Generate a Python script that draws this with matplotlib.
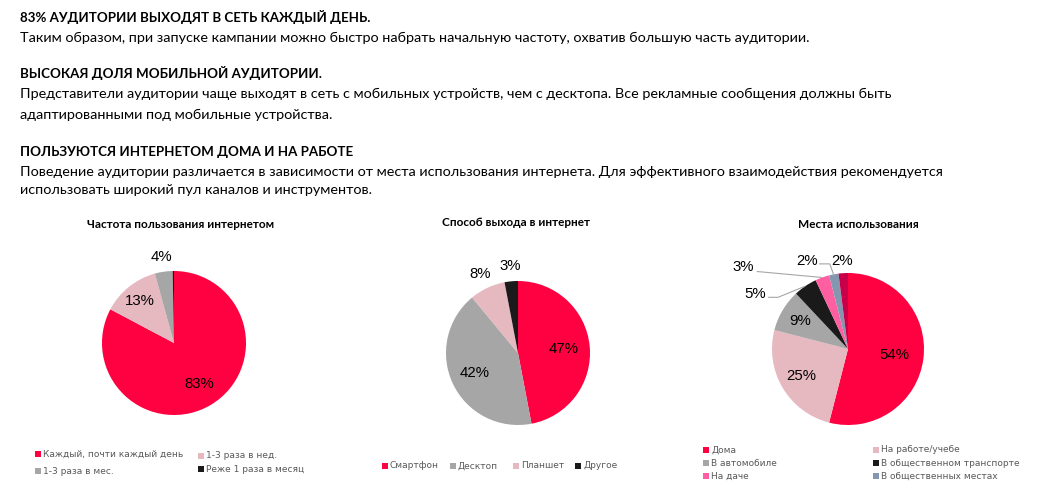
import matplotlib
matplotlib.use("Agg")
import matplotlib.pyplot as plt
from matplotlib.patches import Rectangle
import numpy as np

# ---------------- data ----------------
freq_labels = ["Каждый, почти каждый день", "1-3 раза в нед.", "1-3 раза в мес.", "Реже 1 раза в месяц"]
freq_values = [83, 13, 4, 0.3]
freq_text = ["83%", "13%", "4%", ""]

dev_labels = ["Смартфон", "Десктоп", "Планшет", "Другое"]
dev_values = [47, 42, 8, 3]
dev_text = ["47%", "42%", "8%", "3%"]

place_labels = ["Дома", "На работе/учебе", "В автомобиле", "В общественном транспорте",
                "На даче", "В общественных местах", "Другое"]
place_values = [54, 25, 9, 5, 3, 2, 2]
place_text = ["54%", "25%", "9%", "5%", "3%", "2%", "2%"]

titles = ["Частота пользования интернетом", "Способ выхода в интернет", "Места использования"]

headers = [
    ("83% АУДИТОРИИ ВЫХОДЯТ В СЕТЬ КАЖДЫЙ ДЕНЬ.", True),
    ("Таким образом, при запуске кампании можно быстро набрать начальную частоту, охватив большую часть аудитории.", False),
    ("ВЫСОКАЯ ДОЛЯ МОБИЛЬНОЙ АУДИТОРИИ.", True),
    ("Представители аудитории чаще выходят в сеть с мобильных устройств, чем с десктопа. Все рекламные сообщения должны быть", False),
    ("адаптированными под мобильные устройства.", False),
    ("ПОЛЬЗУЮТСЯ ИНТЕРНЕТОМ ДОМА И НА РАБОТЕ", True),
    ("Поведение аудитории различается в зависимости от места использования интернета. Для эффективного взаимодействия рекомендуется", False),
    ("использовать широкий пул каналов и инструментов.", False),
]

# ---------------- style ----------------
RED = "#FF0040"
PINK = "#E6B8C0"
GRAY = "#A6A6A6"
BLACK = "#1A1A1A"
HOT = "#FF5FA0"
SLATE = "#8497B0"
CRIMSON = "#C8004A"

W, H = 1050, 500
fig = plt.figure(figsize=(W / 100, H / 100), dpi=100)
fig.patch.set_facecolor("white")

HFONT = "Lato"
header_y = [17, 38, 73, 94, 115, 152, 172, 190]
for (txt, bold), y in zip(headers, header_y):
    fig.text(20 / W, 1 - y / H, txt, fontsize=9.6 if bold else 10.38, family=HFONT,
             fontweight="bold" if bold else "normal", va="center", ha="left", color="#000000")


def make_ax(cx, cy, r):
    s = 3 * r
    ax = fig.add_axes([(cx - s / 2) / W, 1 - (cy + s / 2) / H, s / W, s / H])
    return ax


def finish_ax(ax):
    ax.set_xlim(-1.5, 1.5)
    ax.set_ylim(-1.5, 1.5)
    ax.set_aspect("equal")
    ax.axis("off")


def draw_pie(ax, values, colors, texts, inner, outer_r):
    wedges, _ = ax.pie(values, colors=colors, startangle=90, counterclock=False, radius=1.0,
                       wedgeprops=dict(linewidth=0))
    total = sum(values)
    cum = 0
    mids = []
    for v in values:
        mid = 90 - 360 * (cum + v / 2) / total
        mids.append(mid)
        cum += v
    for i, (t, m) in enumerate(zip(texts, mids)):
        if not t:
            continue
        rr = inner[i] if i < len(inner) and inner[i] else outer_r
        x, y = rr * np.cos(np.radians(m)), rr * np.sin(np.radians(m))
        ax.text(x, y, t, ha="center", va="center", fontsize=10.8, family="Liberation Sans", color="#000000")
    return mids


# pie 1
ax1 = make_ax(174, 343, 72)
draw_pie(ax1, freq_values, [RED, PINK, GRAY, BLACK], freq_text, [0.67, 0.75, None, None], 1.2)
finish_ax(ax1)

# pie 2
ax2 = make_ax(518, 353, 72)
draw_pie(ax2, dev_values, [RED, GRAY, PINK, BLACK], dev_text, [0.63, 0.66, None, None], 1.22)
finish_ax(ax2)

# pie 3
ax3 = make_ax(848, 349, 76)
colors3 = [RED, PINK, GRAY, BLACK, HOT, SLATE, CRIMSON]
mids3 = draw_pie(ax3, place_values, colors3, place_text[:3] + [""] * 4, [0.62, 0.71, 0.73], 1.2)
# outer labels with leader lines (positions in radius units)
outer_pos = {3: (-1.22, 0.72), 4: (-1.38, 1.08), 5: (-0.54, 1.16), 6: (-0.08, 1.16)}
for i, (lx, ly) in outer_pos.items():
    ax3.text(lx, ly, place_text[i], ha="center", va="center", fontsize=10.8,
             family="Liberation Sans", color="#000000")
    m = np.radians(mids3[i])
    ex, ey = np.cos(m), np.sin(m)
    if i == 3:
        pts = [(-1.05, 0.68), (-0.92, 0.68), (ex, ey)]
    elif i == 4:
        pts = [(-1.2, 1.02), (ex, ey)]
    elif i == 5:
        pts = [(-0.38, 1.12), (-0.24, 1.12), (ex * 0.98, ey * 0.98)]
    else:
        pts = None
    if pts:
        xs, ys = zip(*pts)
        ax3.plot(xs, ys, color="#A6A6A6", lw=0.8, solid_capstyle="butt")
finish_ax(ax3)

# titles
for (cx, cy), t in zip([(181, 224), (516, 222), (858, 224)], titles):
    fig.text(cx / W, 1 - cy / H, t, fontsize=8.5, family=HFONT, fontweight="bold",
             ha="center", va="center", color="#000000")

# legends
LFONT = "DejaVu Sans"
LCOL = "#595959"


def legend_item(x, y, color, label):
    sq = 6
    fig.patches.append(Rectangle(((x) / W, 1 - (y + sq / 2) / H), sq / W, sq / H,
                                 transform=fig.transFigure, facecolor=color, edgecolor="none"))
    fig.text((x + sq + 2) / W, 1 - y / H, label, fontsize=6.5, family=LFONT, color=LCOL,
             ha="left", va="center")


pos1 = [(35, 454), (198, 456), (35, 471), (198, 469)]
for (x, y), c, l in zip(pos1, [RED, PINK, GRAY, BLACK], freq_labels):
    legend_item(x, y, c, l)

pos2 = [(382, 466), (450, 466), (513, 466), (575, 466)]
for (x, y), c, l in zip(pos2, [RED, GRAY, PINK, BLACK], dev_labels):
    legend_item(x, y, c, l)

pos3 = [(703, 450), (873, 450), (703, 463), (873, 463), (703, 476), (873, 476)]
for (x, y), c, l in zip(pos3, colors3[:6], place_labels[:6]):
    legend_item(x, y, c, l)

fig.savefig("out.png", dpi=100, facecolor="white")
